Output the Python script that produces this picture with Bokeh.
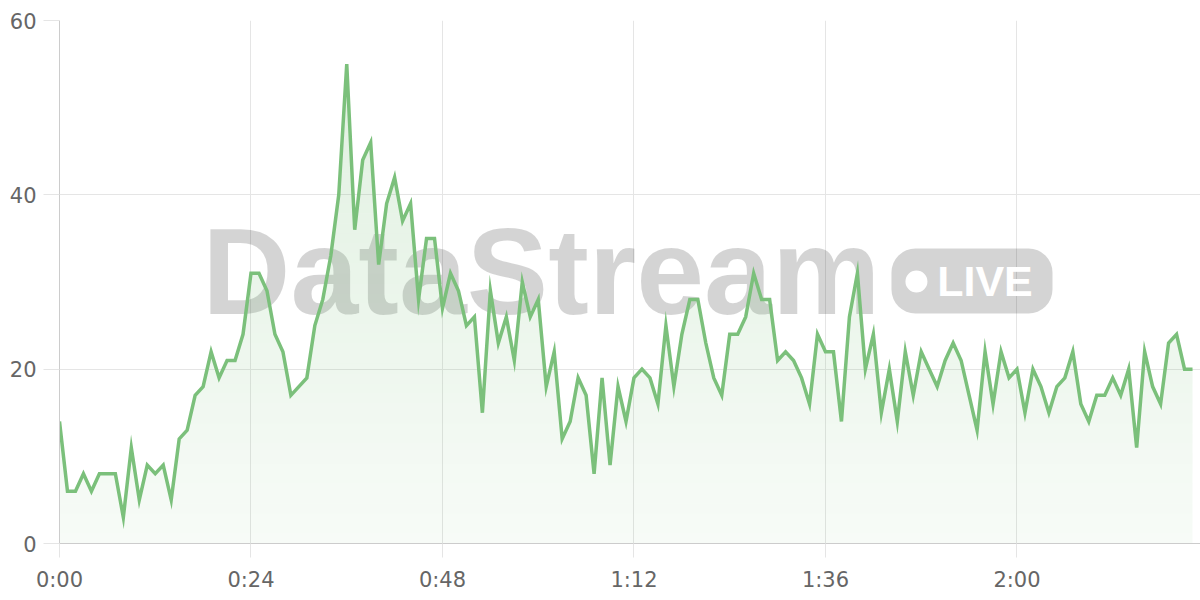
import numpy as np
from bokeh.plotting import figure
from bokeh.models import FixedTicker, Range1d, Label, BoxAnnotation
from bokeh.embed import file_html
from bokeh.resources import INLINE

# ---- data (one reading per minute) ----
values = [14, 6, 6, 8, 6, 8, 8, 8, 3, 11, 5, 9, 8, 9, 5, 12, 13, 17,
          18, 22, 19, 21, 21, 24, 31, 31, 29, 24, 22, 17, 18, 19, 25, 28, 33, 40,
          55, 36, 44, 46, 32, 39, 42, 37, 39, 28, 35, 35, 27, 31, 29, 25, 26, 15,
          29, 23, 26, 21, 30, 26, 28, 18, 22, 12, 14, 19, 17, 8, 19, 9, 18, 14,
          19, 20, 19, 16, 25, 18, 24, 28, 28, 23, 19, 17, 24, 24, 26, 31, 28, 28,
          21, 22, 21, 19, 16, 24, 22, 22, 14, 26, 31, 20, 24, 15, 20, 14, 22, 17,
          22, 20, 18, 21, 23, 21, 17, 13, 22, 16, 22, 19, 20, 15, 20, 18, 15, 18,
          19, 22, 16, 14, 17, 17, 19, 17, 20, 11, 22, 18, 16, 23, 24, 20, 20]
minutes = np.arange(len(values))
x_tick_labels = ["0:00", "0:24", "0:48", "1:12", "1:36", "2:00"]
x_tick_minutes = [int(s.split(":")[0]) * 60 + int(s.split(":")[1]) for s in x_tick_labels]
y_ticks = [0, 20, 40, 60]

LINE = "#7bc07b"
FONT = "Liberation Sans"
TICK_FONT = "DejaVu Sans"
FRAME_W, FRAME_H = 1141, 523
Y_MAX = 60

p = figure(frame_width=FRAME_W, frame_height=FRAME_H,
           x_range=Range1d(0, 143), y_range=Range1d(0, Y_MAX),
           output_backend="svg", toolbar_location=None,
           min_border_left=59, min_border_right=0, min_border_top=20, min_border_bottom=50,
           background_fill_color="white", border_fill_color="white",
           outline_line_color=None)

p.xaxis.ticker = FixedTicker(ticks=x_tick_minutes)
p.xaxis.major_label_overrides = {m: s for m, s in zip(x_tick_minutes, x_tick_labels)}
p.xgrid.ticker = FixedTicker(ticks=x_tick_minutes)
p.yaxis.ticker = FixedTicker(ticks=y_ticks)
p.ygrid.ticker = FixedTicker(ticks=y_ticks)

for ax in (p.xaxis[0], p.yaxis[0]):
    ax.axis_line_color = "#cccccc"
    ax.axis_line_width = 1
    ax.major_tick_line_color = "#e5e5e5"
    ax.major_tick_in = 0
    ax.minor_tick_line_color = None
    ax.major_label_text_font = TICK_FONT
    ax.major_label_text_font_size = "21px"
    ax.major_label_text_color = "#666666"
p.xaxis.major_tick_out = 14
p.xaxis.major_label_standoff = 10
p.yaxis.major_tick_out = 16
p.yaxis.major_label_standoff = 7
p.grid.grid_line_color = "#e5e5e5"
p.grid.grid_line_width = 1

# ---- watermark ----
box = BoxAnnotation(left=104.27, right=124.45, bottom=26.39, top=33.84,
                    fill_color="black", fill_alpha=0.17, line_color=None,
                    border_radius=24, level="underlay")
p.add_layout(box)
p.add_layout(Label(x=17.9, y=31.2, text="DataStream", text_font=FONT,
                   text_font_style="bold", text_font_size="122px",
                   text_color="black", text_alpha=0.17,
                   text_baseline="middle", level="underlay"))
p.add_layout(Label(x=110.0, y=30.06, text="LIVE", text_font=FONT,
                   text_font_style="bold", text_font_size="43px",
                   text_color="white", text_baseline="middle", level="underlay"))
p.scatter(x=[107.4], y=[30.06], size=22, fill_color="white", line_color=None)


# ---- vertical gradient under the line: non-overlapping horizontal bands ----
def clip_band(xs, vs, lo, hi):
    ox, oy = [], []
    for i in range(len(vs)):
        if i > 0:
            x0, x1 = float(xs[i - 1]), float(xs[i])
            v0, v1 = vs[i - 1], vs[i]
            ts = [(L - v0) / (v1 - v0) for L in (lo, hi) if (v0 - L) * (v1 - L) < 0]
            for t in sorted(ts):
                ox.append(x0 + t * (x1 - x0))
                oy.append(min(max(v0 + t * (v1 - v0), lo), hi))
        ox.append(float(xs[i]))
        oy.append(min(max(vs[i], lo), hi))
    return ox, oy


A0, A1 = 0.06, 0.25          # fill opacity at y=0 and at y=Y_MAX
band_px = 10                 # band height in screen pixels (integer -> no seams)
unit_per_px = Y_MAX / FRAME_H
n_bands = int(np.ceil(max(values) / (band_px * unit_per_px)))
for k in range(n_bands):
    lo = k * band_px * unit_per_px
    hi = (k + 1) * band_px * unit_per_px
    a = A0 + (A1 - A0) * ((lo + hi) / 2) / Y_MAX
    xs, ys = clip_band(minutes, values, lo, hi)
    p.varea(x=xs, y1=lo, y2=ys, fill_color=LINE, fill_alpha=a)

p.line(minutes, values, line_color=LINE, line_width=3.5, line_join="miter")

open("out.html", "w").write(file_html(p, INLINE))
